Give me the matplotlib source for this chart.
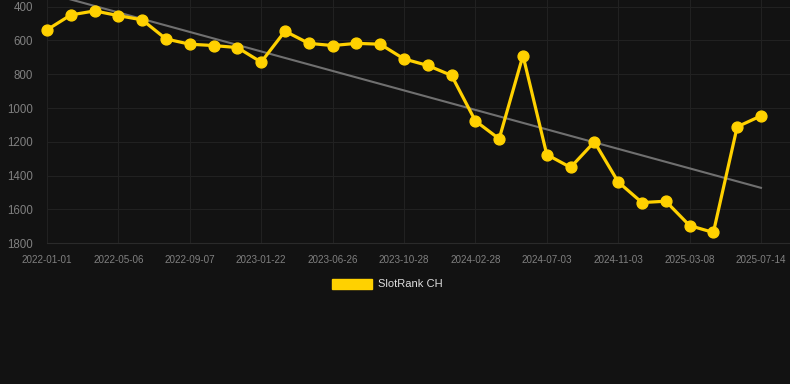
import matplotlib
matplotlib.use("Agg")
import matplotlib.pyplot as plt
import numpy as np
from matplotlib.patches import Patch

plt.rcParams['font.family'] = ['Liberation Sans', 'DejaVu Sans']

# Data
ranks = [537, 449, 425, 453, 478, 591, 622, 630, 642, 728, 545,
         617, 630, 617, 622, 709, 748, 807, 1076, 1182, 689, 1275,
         1351, 1200, 1437, 1559, 1551, 1695, 1736, 1111, 1046]
tick_labels = ["2022-01-01", "2022-05-06", "2022-09-07", "2023-01-22",
               "2023-06-26", "2023-10-28", "2024-02-28", "2024-07-03",
               "2024-11-03", "2025-03-08", "2025-07-14"]
series_name = "SlotRank CH"

BG = "#121212"
YELLOW = "#FFD100"
GRID = "#212121"
TXT = "#808080"

W, H = 790, 384
fig = plt.figure(figsize=(W / 100, H / 100), dpi=100, facecolor=BG)
ax = fig.add_axes([47 / W, (H - 243.3) / H, (W - 47) / W, 243.3 / H])
ax.set_facecolor(BG)

x = np.arange(len(ranks))
y = np.array(ranks, dtype=float)

# trend line (linear regression)
coef = np.polyfit(x, y, 1)
ax.plot(x, np.polyval(coef, x), color="#707070", lw=1.5, zorder=2)

ax.plot(x, y, color=YELLOW, lw=2.3, marker="o", markersize=7.8,
        markerfacecolor=YELLOW, markeredgecolor=YELLOW, zorder=3, clip_on=False)

ax.set_xlim(0, 31.22)
ax.set_ylim(1800, 360.5)

ax.set_yticks(np.arange(400, 1801, 200))
ax.set_yticklabels([str(v) for v in range(400, 1801, 200)])
tick_pos = np.arange(0, len(ranks), 3)
ax.set_xticks(tick_pos)
ax.set_xticklabels(tick_labels)

ax.tick_params(axis="y", length=0, pad=10, labelsize=8.3, labelcolor=TXT)
ax.tick_params(axis="x", length=0, pad=8.5, labelsize=7.1, labelcolor=TXT)

ax.grid(True, color=GRID, lw=0.8)
ax.set_axisbelow(True)
for s in ["top", "right", "left"]:
    ax.spines[s].set_visible(False)
ax.spines["bottom"].set_color("#2a2a2a")
ax.spines["bottom"].set_linewidth(0.8)

fs = 8.0
leg = fig.legend(handles=[Patch(facecolor=YELLOW, edgecolor=YELLOW, label=series_name)],
                 loc="center", bbox_to_anchor=(387 / W, 1 - 284 / H),
                 frameon=False, fontsize=fs, labelcolor="#dddddd",
                 handlelength=3.6, handleheight=1.0, handletextpad=0.55)

fig.savefig("out.png", dpi=100, facecolor=BG)
